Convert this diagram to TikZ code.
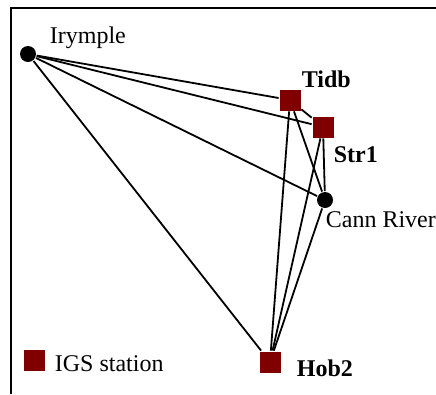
\documentclass[tikz,border=0pt]{standalone}
\usepackage{fontspec}
\setmainfont{Liberation Serif}
\usetikzlibrary{positioning}
\definecolor{igsred}{RGB}{128,0,0}

\begin{document}
\begin{tikzpicture}[x=1pt,y=-1pt,line width=1.8pt,
                    font=\fontsize{24}{28}\selectfont]
  \tikzstyle{site}=[circle,fill=black,inner sep=0pt,minimum size=16pt]
  \tikzstyle{igs}=[rectangle,fill=igsred,inner sep=0pt,minimum size=21pt]
  \tikzstyle{sitelabel}=[inner sep=0pt,anchor=base west]

  \useasboundingbox (0,0) rectangle (436,394);
  \coordinate (fbl) at (11,394);
  \coordinate (ftl) at (11,8);
  \coordinate (ftr) at (436,8);
  \draw[line width=1.5pt] (fbl) -- (ftl) -- (ftr);

  \node[site] (Iry)  at (28,54)   {};
  \node[igs]  (Tidb) at (290,100) {};
  \node[igs]  (Str1) at (323,127) {};
  \node[site] (Cann) at (325,200) {};
  \node[igs]  (Hob2) at (270,362) {};
  \node[igs]  (Leg)  at (34,360)  {};

  \node[sitelabel] (IryL)  at (49,43)   {Irymple};
  \node[sitelabel] (TidbL) at (301,87)  {\bfseries Tidb};
  \node[sitelabel] (Str1L) at (333,162) {\bfseries Str1};
  \node[sitelabel] (CannL) at (325,227) {Cann River};
  \node[sitelabel] (Hob2L) at (296,376) {\bfseries Hob2};
  \node[sitelabel] (LegL)  at (54,371)  {IGS station};

  \path (Iry)  edge (Tidb) edge (Str1) edge (Cann) edge (Hob2)
        (Tidb) edge (Str1) edge (Cann) edge (Hob2)
        (Str1) edge (Cann) edge (Hob2)
        (Cann) edge (Hob2);
\end{tikzpicture}
\end{document}
